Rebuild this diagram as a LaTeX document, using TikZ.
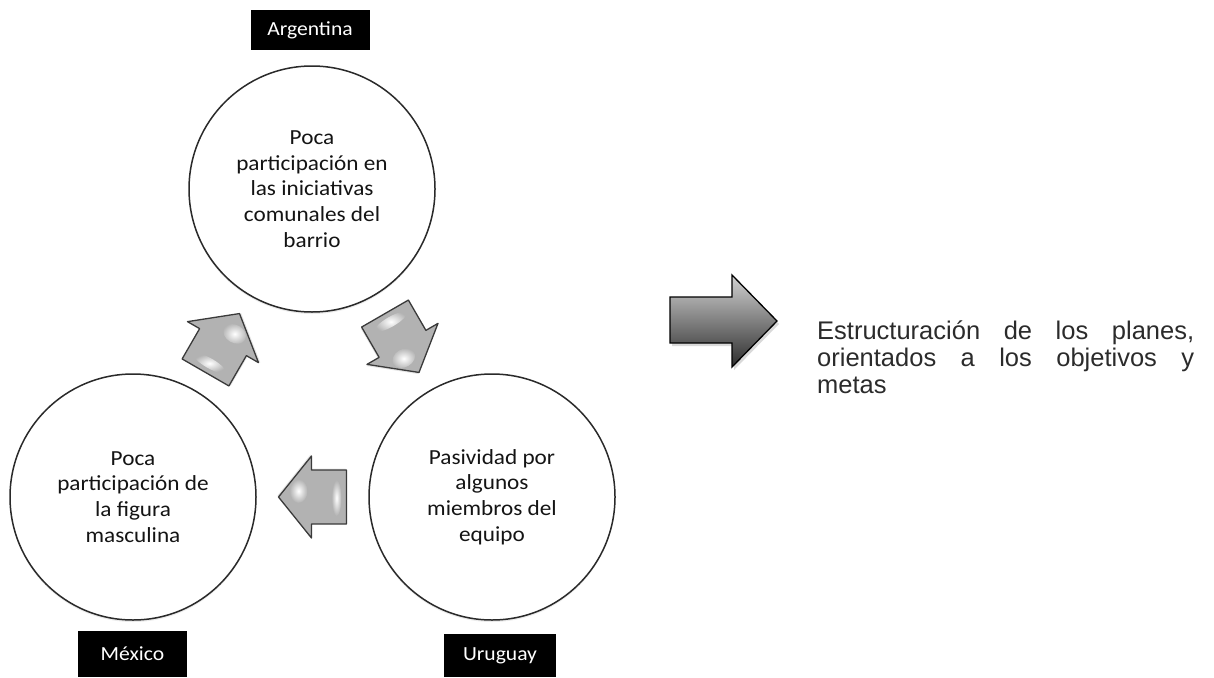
\documentclass[tikz,border=0pt]{standalone}
\usepackage{fontspec}
\setmainfont{Carlito}
\newfontfamily\circfont[FakeStretch=1.08]{Carlito}
\newfontfamily\notefont{Liberation Sans}
\usetikzlibrary{calc,shadows}

\definecolor{ringline}{HTML}{2A2A2A}
\definecolor{cyclefill}{HTML}{B2B2B2}
\definecolor{cycleline}{HTML}{3A3A3A}
\definecolor{inktext}{HTML}{141414}
\definecolor{notetext}{HTML}{2B2B2B}

\tikzset{
  stage/.style={circle, draw=ringline, line width=1.5pt, fill=white,
    minimum size=246pt, inner sep=0pt, align=center, text=inktext,
    font=\circfont\fontsize{21.5}{25.7}\selectfont,
    drop shadow={opacity=0.16, shadow xshift=0pt, shadow yshift=-2pt}},
  country/.style={fill=black, text=white, inner sep=0pt,
    font=\circfont\fontsize{20}{24}\selectfont},
  notebox/.style={inner sep=0pt, text=notetext,
    font=\notefont\fontsize{25.5}{27}\selectfont},
  % glossy block arrow of the cycle, pointing along local +x
  cyclearrow/.pic={
    \path[fill=black, opacity=0.10]
      (35,1.5) -- (2,42.5) -- (2,28.5) -- (-33,28.5) -- (-33,-25.5)
      -- (2,-25.5) -- (2,-39.5) -- cycle;
    \path[fill=cyclefill, draw=cycleline, line width=1.3pt, line join=round]
      (34,0) -- (1,41) -- (1,27) -- (-34,27) -- (-34,-27)
      -- (1,-27) -- (1,-41) -- cycle;
    \shade[inner color=white, outer color=cyclefill]
      (14,6) ellipse (9 and 12);
    \shade[inner color=white, outer color=cyclefill]
      (-24,-1) ellipse (5 and 18);
  }
}

\begin{document}
\begin{tikzpicture}[x=1pt, y=-1pt]
  \useasboundingbox (0,0) rectangle (1214,677);

  % the three stages of the cycle
  \node[stage] (top) at (312,189)
    {Poca\\participación en\\las iniciativas\\comunales del\\barrio};
  \node[stage] (left) at (133,497)
    {Poca\\participación de\\la figura\\masculina};
  \node[stage] (right) at (492,497)
    {Pasividad por\\algunos\\miembros del\\equipo};

  % cycle arrows between the stages
  \pic[rotate=-60] at ($(top)!0.5!(right)$) {cyclearrow};
  \pic[rotate=180] at ($(right)!0.5!(left)$) {cyclearrow};
  \pic[rotate=60]  at ($(left)!0.5!(top)$) {cyclearrow};

  % country labels
  \node[country, minimum width=119pt, minimum height=40pt] (arg) at (310,30) {Argentina};
  \node[country, minimum width=109pt, minimum height=46pt] (mex) at (132.5,654) {México};
  \node[country, minimum width=112pt, minimum height=43pt] (uru) at (500,655.5) {Uruguay};

  % outcome arrow
  \path[fill=black, opacity=0.15]
    (672,300) -- (734,300) -- (734,278) -- (779,324) -- (734,370) -- (734,346) -- (672,346) -- cycle;
  \path[top color={rgb,255:red,210;green,210;blue,210},
        bottom color={rgb,255:red,45;green,45;blue,45},
        draw=black, line width=1.3pt, line join=miter]
    (670,297) -- (732,297) -- (732,275) -- (777,321) -- (732,367) -- (732,343) -- (670,343) -- cycle;

  % outcome text
  \node[notebox, anchor=base west] (plan) at (817,339)
    {\parbox[t]{377pt}{\hyphenpenalty=10000 Estructuración de los planes,\linebreak
     orientados a los objetivos y\linebreak metas}};
\end{tikzpicture}
\end{document}
